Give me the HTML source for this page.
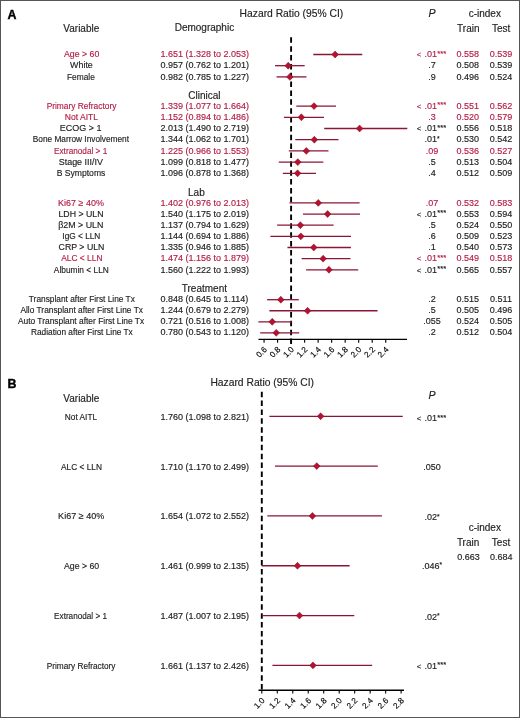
<!DOCTYPE html>
<html><head><meta charset="utf-8"><style>
html,body{margin:0;padding:0;background:#fff;}
body{width:520px;height:718px;overflow:hidden;}
svg{display:block;font-family:"Liberation Sans", sans-serif;will-change:transform;}

.ci{stroke:#8a1636;stroke-width:1.3;}
.dia{fill:#b8102e;stroke:#800c26;stroke-width:0.55;}
.dash{stroke:#000;stroke-width:1.9;stroke-dasharray:5.5 3.36;}
.pl{stroke-width:0.4px;}
.axis{stroke:#000;stroke-width:1.4;}
.tick{stroke:#000;stroke-width:1.1;}
</style></head><body>
<svg width="520" height="718" viewBox="0 0 520 718" fill="#222222">
<rect x="0.5" y="0.5" width="519" height="717" fill="#fff" stroke="#555" stroke-width="1"/>
<text x="7.60" y="18.60" font-size="12.4" fill="#000" font-weight="bold" class="pl" stroke="#000" stroke-width="0.15">A</text>
<text x="291.40" y="16.70" font-size="10.3" text-anchor="middle" stroke="#222222" stroke-width="0.15">Hazard Ratio (95% CI)</text>
<text x="428.60" y="16.80" font-size="10.6" font-style="italic" stroke="#222222" stroke-width="0.15">P</text>
<text x="484.80" y="16.60" font-size="10" text-anchor="middle" stroke="#222222" stroke-width="0.15">c-index</text>
<text x="81.30" y="31.50" font-size="10" text-anchor="middle" stroke="#222222" stroke-width="0.15">Variable</text>
<text x="204.40" y="31.40" font-size="10" text-anchor="middle" stroke="#222222" stroke-width="0.15">Demographic</text>
<text x="468.30" y="31.60" font-size="10" text-anchor="middle" stroke="#222222" stroke-width="0.15">Train</text>
<text x="501.20" y="31.60" font-size="10" text-anchor="middle" stroke="#222222" stroke-width="0.15">Test</text>
<text x="81.65" y="57.20" font-size="9" text-anchor="middle" class="nm" id="A0" textLength="35.37" lengthAdjust="spacingAndGlyphs" fill="#b41c46" stroke="#b41c46" stroke-width="0.15">Age &gt; 60</text>
<text x="160.40" y="57.20" font-size="9" fill="#b41c46" stroke="#b41c46" stroke-width="0.15">1.651 (1.328 to 2.053)</text>
<text y="57.20" font-size="9" fill="#b41c46" stroke="#b41c46" stroke-width="0.15"><tspan x="416.7" font-size="7.6">&lt;</tspan><tspan x="424.4">.01</tspan><tspan x="437.3" font-size="7.5" dy="-1.5">***</tspan></text>
<text x="467.80" y="57.20" font-size="9" text-anchor="middle" fill="#b41c46" stroke="#b41c46" stroke-width="0.15">0.558</text>
<text x="501.00" y="57.20" font-size="9" text-anchor="middle" fill="#b41c46" stroke="#b41c46" stroke-width="0.15">0.539</text>
<text x="81.45" y="68.40" font-size="9" text-anchor="middle" class="nm" id="A1" textLength="22.70" lengthAdjust="spacingAndGlyphs" stroke="#222222" stroke-width="0.15">White</text>
<text x="160.40" y="68.40" font-size="9" stroke="#222222" stroke-width="0.15">0.957 (0.762 to 1.201)</text>
<text x="432.00" y="68.40" font-size="9" text-anchor="middle" stroke="#222222" stroke-width="0.15">.7</text>
<text x="467.80" y="68.40" font-size="9" text-anchor="middle" stroke="#222222" stroke-width="0.15">0.508</text>
<text x="501.00" y="68.40" font-size="9" text-anchor="middle" stroke="#222222" stroke-width="0.15">0.539</text>
<text x="80.95" y="79.60" font-size="9" text-anchor="middle" class="nm" id="A2" textLength="27.84" lengthAdjust="spacingAndGlyphs" stroke="#222222" stroke-width="0.15">Female</text>
<text x="160.40" y="79.60" font-size="9" stroke="#222222" stroke-width="0.15">0.982 (0.785 to 1.227)</text>
<text x="432.00" y="79.60" font-size="9" text-anchor="middle" stroke="#222222" stroke-width="0.15">.9</text>
<text x="467.80" y="79.60" font-size="9" text-anchor="middle" stroke="#222222" stroke-width="0.15">0.496</text>
<text x="501.00" y="79.60" font-size="9" text-anchor="middle" stroke="#222222" stroke-width="0.15">0.524</text>
<text x="204.40" y="99.20" font-size="10" text-anchor="middle" stroke="#222222" stroke-width="0.15">Clinical</text>
<text x="81.50" y="108.80" font-size="9" text-anchor="middle" class="nm" id="A3" textLength="69.74" lengthAdjust="spacingAndGlyphs" fill="#b41c46" stroke="#b41c46" stroke-width="0.15">Primary Refractory</text>
<text x="160.40" y="108.80" font-size="9" fill="#b41c46" stroke="#b41c46" stroke-width="0.15">1.339 (1.077 to 1.664)</text>
<text y="108.80" font-size="9" fill="#b41c46" stroke="#b41c46" stroke-width="0.15"><tspan x="416.7" font-size="7.6">&lt;</tspan><tspan x="424.4">.01</tspan><tspan x="437.3" font-size="7.5" dy="-1.5">***</tspan></text>
<text x="467.80" y="108.80" font-size="9" text-anchor="middle" fill="#b41c46" stroke="#b41c46" stroke-width="0.15">0.551</text>
<text x="501.00" y="108.80" font-size="9" text-anchor="middle" fill="#b41c46" stroke="#b41c46" stroke-width="0.15">0.562</text>
<text x="81.45" y="120.00" font-size="9" text-anchor="middle" class="nm" id="A4" textLength="33.26" lengthAdjust="spacingAndGlyphs" fill="#b41c46" stroke="#b41c46" stroke-width="0.15">Not AITL</text>
<text x="160.40" y="120.00" font-size="9" fill="#b41c46" stroke="#b41c46" stroke-width="0.15">1.152 (0.894 to 1.486)</text>
<text x="432.00" y="120.00" font-size="9" text-anchor="middle" fill="#b41c46" stroke="#b41c46" stroke-width="0.15">.3</text>
<text x="467.80" y="120.00" font-size="9" text-anchor="middle" fill="#b41c46" stroke="#b41c46" stroke-width="0.15">0.520</text>
<text x="501.00" y="120.00" font-size="9" text-anchor="middle" fill="#b41c46" stroke="#b41c46" stroke-width="0.15">0.579</text>
<text x="80.65" y="131.20" font-size="9" text-anchor="middle" class="nm" id="A5" textLength="41.66" lengthAdjust="spacingAndGlyphs" stroke="#222222" stroke-width="0.15">ECOG &gt; 1</text>
<text x="160.40" y="131.20" font-size="9" stroke="#222222" stroke-width="0.15">2.013 (1.490 to 2.719)</text>
<text y="131.20" font-size="9" stroke="#222222" stroke-width="0.15"><tspan x="416.7" font-size="7.6">&lt;</tspan><tspan x="424.4">.01</tspan><tspan x="437.3" font-size="7.5" dy="-1.5">***</tspan></text>
<text x="467.80" y="131.20" font-size="9" text-anchor="middle" stroke="#222222" stroke-width="0.15">0.556</text>
<text x="501.00" y="131.20" font-size="9" text-anchor="middle" stroke="#222222" stroke-width="0.15">0.518</text>
<text x="80.90" y="142.40" font-size="9" text-anchor="middle" class="nm" id="A6" textLength="96.18" lengthAdjust="spacingAndGlyphs" stroke="#222222" stroke-width="0.15">Bone Marrow Involvement</text>
<text x="160.40" y="142.40" font-size="9" stroke="#222222" stroke-width="0.15">1.344 (1.062 to 1.701)</text>
<text x="432.00" y="142.40" font-size="9" text-anchor="middle" stroke="#222222" stroke-width="0.15">.01<tspan font-size="6.6" dy="-1.5">*</tspan></text>
<text x="467.80" y="142.40" font-size="9" text-anchor="middle" stroke="#222222" stroke-width="0.15">0.530</text>
<text x="501.00" y="142.40" font-size="9" text-anchor="middle" stroke="#222222" stroke-width="0.15">0.542</text>
<text x="80.65" y="153.60" font-size="9" text-anchor="middle" class="nm" id="A7" textLength="53.29" lengthAdjust="spacingAndGlyphs" fill="#b41c46" stroke="#b41c46" stroke-width="0.15">Extranodal &gt; 1</text>
<text x="160.40" y="153.60" font-size="9" fill="#b41c46" stroke="#b41c46" stroke-width="0.15">1.225 (0.966 to 1.553)</text>
<text x="432.00" y="153.60" font-size="9" text-anchor="middle" fill="#b41c46" stroke="#b41c46" stroke-width="0.15">.09</text>
<text x="467.80" y="153.60" font-size="9" text-anchor="middle" fill="#b41c46" stroke="#b41c46" stroke-width="0.15">0.536</text>
<text x="501.00" y="153.60" font-size="9" text-anchor="middle" fill="#b41c46" stroke="#b41c46" stroke-width="0.15">0.527</text>
<text x="80.85" y="164.80" font-size="9" text-anchor="middle" class="nm" id="A8" textLength="44.22" lengthAdjust="spacingAndGlyphs" stroke="#222222" stroke-width="0.15">Stage III/IV</text>
<text x="160.40" y="164.80" font-size="9" stroke="#222222" stroke-width="0.15">1.099 (0.818 to 1.477)</text>
<text x="432.00" y="164.80" font-size="9" text-anchor="middle" stroke="#222222" stroke-width="0.15">.5</text>
<text x="467.80" y="164.80" font-size="9" text-anchor="middle" stroke="#222222" stroke-width="0.15">0.513</text>
<text x="501.00" y="164.80" font-size="9" text-anchor="middle" stroke="#222222" stroke-width="0.15">0.504</text>
<text x="81.05" y="176.00" font-size="9" text-anchor="middle" class="nm" id="A9" textLength="48.51" lengthAdjust="spacingAndGlyphs" stroke="#222222" stroke-width="0.15">B Symptoms</text>
<text x="160.40" y="176.00" font-size="9" stroke="#222222" stroke-width="0.15">1.096 (0.878 to 1.368)</text>
<text x="432.00" y="176.00" font-size="9" text-anchor="middle" stroke="#222222" stroke-width="0.15">.4</text>
<text x="467.80" y="176.00" font-size="9" text-anchor="middle" stroke="#222222" stroke-width="0.15">0.512</text>
<text x="501.00" y="176.00" font-size="9" text-anchor="middle" stroke="#222222" stroke-width="0.15">0.509</text>
<text x="196.40" y="195.90" font-size="10" text-anchor="middle" stroke="#222222" stroke-width="0.15">Lab</text>
<text x="81.00" y="205.60" font-size="9" text-anchor="middle" class="nm" id="A10" textLength="45.76" lengthAdjust="spacingAndGlyphs" fill="#b41c46" stroke="#b41c46" stroke-width="0.15">Ki67 ≥ 40%</text>
<text x="160.40" y="205.60" font-size="9" fill="#b41c46" stroke="#b41c46" stroke-width="0.15">1.402 (0.976 to 2.013)</text>
<text x="432.00" y="205.60" font-size="9" text-anchor="middle" fill="#b41c46" stroke="#b41c46" stroke-width="0.15">.07</text>
<text x="467.80" y="205.60" font-size="9" text-anchor="middle" fill="#b41c46" stroke="#b41c46" stroke-width="0.15">0.532</text>
<text x="501.00" y="205.60" font-size="9" text-anchor="middle" fill="#b41c46" stroke="#b41c46" stroke-width="0.15">0.583</text>
<text x="81.00" y="216.75" font-size="9" text-anchor="middle" class="nm" id="A11" textLength="45.03" lengthAdjust="spacingAndGlyphs" stroke="#222222" stroke-width="0.15">LDH &gt; ULN</text>
<text x="160.40" y="216.75" font-size="9" stroke="#222222" stroke-width="0.15">1.540 (1.175 to 2.019)</text>
<text y="216.75" font-size="9" stroke="#222222" stroke-width="0.15"><tspan x="416.7" font-size="7.6">&lt;</tspan><tspan x="424.4">.01</tspan><tspan x="437.3" font-size="7.5" dy="-1.5">***</tspan></text>
<text x="467.80" y="216.75" font-size="9" text-anchor="middle" stroke="#222222" stroke-width="0.15">0.553</text>
<text x="501.00" y="216.75" font-size="9" text-anchor="middle" stroke="#222222" stroke-width="0.15">0.594</text>
<text x="80.75" y="227.90" font-size="9" text-anchor="middle" class="nm" id="A12" textLength="45.24" lengthAdjust="spacingAndGlyphs" stroke="#222222" stroke-width="0.15">β2M &gt; ULN</text>
<text x="160.40" y="227.90" font-size="9" stroke="#222222" stroke-width="0.15">1.137 (0.794 to 1.629)</text>
<text x="432.00" y="227.90" font-size="9" text-anchor="middle" stroke="#222222" stroke-width="0.15">.5</text>
<text x="467.80" y="227.90" font-size="9" text-anchor="middle" stroke="#222222" stroke-width="0.15">0.524</text>
<text x="501.00" y="227.90" font-size="9" text-anchor="middle" stroke="#222222" stroke-width="0.15">0.550</text>
<text x="81.35" y="239.05" font-size="9" text-anchor="middle" class="nm" id="A13" textLength="37.96" lengthAdjust="spacingAndGlyphs" stroke="#222222" stroke-width="0.15">IgG &lt; LLN</text>
<text x="160.40" y="239.05" font-size="9" stroke="#222222" stroke-width="0.15">1.144 (0.694 to 1.886)</text>
<text x="432.00" y="239.05" font-size="9" text-anchor="middle" stroke="#222222" stroke-width="0.15">.6</text>
<text x="467.80" y="239.05" font-size="9" text-anchor="middle" stroke="#222222" stroke-width="0.15">0.509</text>
<text x="501.00" y="239.05" font-size="9" text-anchor="middle" stroke="#222222" stroke-width="0.15">0.523</text>
<text x="81.50" y="250.20" font-size="9" text-anchor="middle" class="nm" id="A14" textLength="45.88" lengthAdjust="spacingAndGlyphs" stroke="#222222" stroke-width="0.15">CRP &gt; ULN</text>
<text x="160.40" y="250.20" font-size="9" stroke="#222222" stroke-width="0.15">1.335 (0.946 to 1.885)</text>
<text x="432.00" y="250.20" font-size="9" text-anchor="middle" stroke="#222222" stroke-width="0.15">.1</text>
<text x="467.80" y="250.20" font-size="9" text-anchor="middle" stroke="#222222" stroke-width="0.15">0.540</text>
<text x="501.00" y="250.20" font-size="9" text-anchor="middle" stroke="#222222" stroke-width="0.15">0.573</text>
<text x="81.85" y="261.35" font-size="9" text-anchor="middle" class="nm" id="A15" textLength="41.16" lengthAdjust="spacingAndGlyphs" fill="#b41c46" stroke="#b41c46" stroke-width="0.15">ALC &lt; LLN</text>
<text x="160.40" y="261.35" font-size="9" fill="#b41c46" stroke="#b41c46" stroke-width="0.15">1.474 (1.156 to 1.879)</text>
<text y="261.35" font-size="9" fill="#b41c46" stroke="#b41c46" stroke-width="0.15"><tspan x="416.7" font-size="7.6">&lt;</tspan><tspan x="424.4">.01</tspan><tspan x="437.3" font-size="7.5" dy="-1.5">***</tspan></text>
<text x="467.80" y="261.35" font-size="9" text-anchor="middle" fill="#b41c46" stroke="#b41c46" stroke-width="0.15">0.549</text>
<text x="501.00" y="261.35" font-size="9" text-anchor="middle" fill="#b41c46" stroke="#b41c46" stroke-width="0.15">0.518</text>
<text x="81.35" y="272.50" font-size="9" text-anchor="middle" class="nm" id="A16" textLength="54.98" lengthAdjust="spacingAndGlyphs" stroke="#222222" stroke-width="0.15">Albumin &lt; LLN</text>
<text x="160.40" y="272.50" font-size="9" stroke="#222222" stroke-width="0.15">1.560 (1.222 to 1.993)</text>
<text y="272.50" font-size="9" stroke="#222222" stroke-width="0.15"><tspan x="416.7" font-size="7.6">&lt;</tspan><tspan x="424.4">.01</tspan><tspan x="437.3" font-size="7.5" dy="-1.5">***</tspan></text>
<text x="467.80" y="272.50" font-size="9" text-anchor="middle" stroke="#222222" stroke-width="0.15">0.565</text>
<text x="501.00" y="272.50" font-size="9" text-anchor="middle" stroke="#222222" stroke-width="0.15">0.557</text>
<text x="204.40" y="291.70" font-size="10" text-anchor="middle" stroke="#222222" stroke-width="0.15">Treatment</text>
<text x="81.85" y="302.00" font-size="9" text-anchor="middle" class="nm" id="A17" textLength="106.01" lengthAdjust="spacingAndGlyphs" stroke="#222222" stroke-width="0.15">Transplant after First Line Tx</text>
<text x="160.40" y="302.00" font-size="9" stroke="#222222" stroke-width="0.15">0.848 (0.645 to 1.114)</text>
<text x="432.00" y="302.00" font-size="9" text-anchor="middle" stroke="#222222" stroke-width="0.15">.2</text>
<text x="467.80" y="302.00" font-size="9" text-anchor="middle" stroke="#222222" stroke-width="0.15">0.515</text>
<text x="501.00" y="302.00" font-size="9" text-anchor="middle" stroke="#222222" stroke-width="0.15">0.511</text>
<text x="81.70" y="313.05" font-size="9" text-anchor="middle" class="nm" id="A18" textLength="122.50" lengthAdjust="spacingAndGlyphs" stroke="#222222" stroke-width="0.15">Allo Transplant after First Line Tx</text>
<text x="160.40" y="313.05" font-size="9" stroke="#222222" stroke-width="0.15">1.244 (0.679 to 2.279)</text>
<text x="432.00" y="313.05" font-size="9" text-anchor="middle" stroke="#222222" stroke-width="0.15">.5</text>
<text x="467.80" y="313.05" font-size="9" text-anchor="middle" stroke="#222222" stroke-width="0.15">0.505</text>
<text x="501.00" y="313.05" font-size="9" text-anchor="middle" stroke="#222222" stroke-width="0.15">0.496</text>
<text x="81.05" y="324.10" font-size="9" text-anchor="middle" class="nm" id="A19" textLength="126.28" lengthAdjust="spacingAndGlyphs" stroke="#222222" stroke-width="0.15">Auto Transplant after First Line Tx</text>
<text x="160.40" y="324.10" font-size="9" stroke="#222222" stroke-width="0.15">0.721 (0.516 to 1.008)</text>
<text x="432.00" y="324.10" font-size="9" text-anchor="middle" stroke="#222222" stroke-width="0.15">.055</text>
<text x="467.80" y="324.10" font-size="9" text-anchor="middle" stroke="#222222" stroke-width="0.15">0.524</text>
<text x="501.00" y="324.10" font-size="9" text-anchor="middle" stroke="#222222" stroke-width="0.15">0.505</text>
<text x="81.90" y="335.15" font-size="9" text-anchor="middle" class="nm" id="A20" textLength="101.76" lengthAdjust="spacingAndGlyphs" stroke="#222222" stroke-width="0.15">Radiation after First Line Tx</text>
<text x="160.40" y="335.15" font-size="9" stroke="#222222" stroke-width="0.15">0.780 (0.543 to 1.120)</text>
<text x="432.00" y="335.15" font-size="9" text-anchor="middle" stroke="#222222" stroke-width="0.15">.2</text>
<text x="467.80" y="335.15" font-size="9" text-anchor="middle" stroke="#222222" stroke-width="0.15">0.512</text>
<text x="501.00" y="335.15" font-size="9" text-anchor="middle" stroke="#222222" stroke-width="0.15">0.504</text>
<line x1="291.1" y1="37.3" x2="291.1" y2="344.0" class="dash"/>
<line x1="258.5" y1="339.35" x2="407" y2="339.35" class="axis"/>
<line x1="264.06" y1="339.35" x2="264.06" y2="342.75" class="tick"/>
<text x="267.46" y="350.05" font-size="8.2" fill="#000" text-anchor="end" transform="rotate(-45 267.46 350.05)" stroke="#000" stroke-width="0.15">0.6</text>
<line x1="277.58" y1="339.35" x2="277.58" y2="342.75" class="tick"/>
<text x="280.98" y="350.05" font-size="8.2" fill="#000" text-anchor="end" transform="rotate(-45 280.98 350.05)" stroke="#000" stroke-width="0.15">0.8</text>
<line x1="291.10" y1="339.35" x2="291.10" y2="342.75" class="tick"/>
<text x="294.50" y="350.05" font-size="8.2" fill="#000" text-anchor="end" transform="rotate(-45 294.50 350.05)" stroke="#000" stroke-width="0.15">1.0</text>
<line x1="304.62" y1="339.35" x2="304.62" y2="342.75" class="tick"/>
<text x="308.02" y="350.05" font-size="8.2" fill="#000" text-anchor="end" transform="rotate(-45 308.02 350.05)" stroke="#000" stroke-width="0.15">1.2</text>
<line x1="318.14" y1="339.35" x2="318.14" y2="342.75" class="tick"/>
<text x="321.54" y="350.05" font-size="8.2" fill="#000" text-anchor="end" transform="rotate(-45 321.54 350.05)" stroke="#000" stroke-width="0.15">1.4</text>
<line x1="331.66" y1="339.35" x2="331.66" y2="342.75" class="tick"/>
<text x="335.06" y="350.05" font-size="8.2" fill="#000" text-anchor="end" transform="rotate(-45 335.06 350.05)" stroke="#000" stroke-width="0.15">1.6</text>
<line x1="345.18" y1="339.35" x2="345.18" y2="342.75" class="tick"/>
<text x="348.58" y="350.05" font-size="8.2" fill="#000" text-anchor="end" transform="rotate(-45 348.58 350.05)" stroke="#000" stroke-width="0.15">1.8</text>
<line x1="358.70" y1="339.35" x2="358.70" y2="342.75" class="tick"/>
<text x="362.10" y="350.05" font-size="8.2" fill="#000" text-anchor="end" transform="rotate(-45 362.10 350.05)" stroke="#000" stroke-width="0.15">2.0</text>
<line x1="372.22" y1="339.35" x2="372.22" y2="342.75" class="tick"/>
<text x="375.62" y="350.05" font-size="8.2" fill="#000" text-anchor="end" transform="rotate(-45 375.62 350.05)" stroke="#000" stroke-width="0.15">2.2</text>
<line x1="385.74" y1="339.35" x2="385.74" y2="342.75" class="tick"/>
<text x="389.14" y="350.05" font-size="8.2" fill="#000" text-anchor="end" transform="rotate(-45 389.14 350.05)" stroke="#000" stroke-width="0.15">2.4</text>
<line x1="313.27" y1="54.50" x2="362.28" y2="54.50" class="ci"/>
<path d="M331.81 54.50L335.11 51.05L338.41 54.50L335.11 57.95Z" class="dia"/>
<line x1="275.01" y1="65.70" x2="304.69" y2="65.70" class="ci"/>
<path d="M284.89 65.70L288.19 62.25L291.49 65.70L288.19 69.15Z" class="dia"/>
<line x1="276.57" y1="76.90" x2="306.45" y2="76.90" class="ci"/>
<path d="M286.58 76.90L289.88 73.45L293.18 76.90L289.88 80.35Z" class="dia"/>
<line x1="296.31" y1="106.10" x2="335.99" y2="106.10" class="ci"/>
<path d="M310.72 106.10L314.02 102.65L317.32 106.10L314.02 109.55Z" class="dia"/>
<line x1="283.93" y1="117.30" x2="323.95" y2="117.30" class="ci"/>
<path d="M298.08 117.30L301.38 113.85L304.68 117.30L301.38 120.75Z" class="dia"/>
<line x1="324.22" y1="128.50" x2="407.30" y2="128.50" class="ci"/>
<path d="M356.28 128.50L359.58 125.05L362.88 128.50L359.58 131.95Z" class="dia"/>
<line x1="295.29" y1="139.70" x2="338.49" y2="139.70" class="ci"/>
<path d="M311.05 139.70L314.35 136.25L317.65 139.70L314.35 143.15Z" class="dia"/>
<line x1="288.80" y1="150.90" x2="328.48" y2="150.90" class="ci"/>
<path d="M303.01 150.90L306.31 147.45L309.61 150.90L306.31 154.35Z" class="dia"/>
<line x1="278.80" y1="162.10" x2="323.35" y2="162.10" class="ci"/>
<path d="M294.49 162.10L297.79 158.65L301.09 162.10L297.79 165.55Z" class="dia"/>
<line x1="282.85" y1="173.30" x2="315.98" y2="173.30" class="ci"/>
<path d="M294.29 173.30L297.59 169.85L300.89 173.30L297.59 176.75Z" class="dia"/>
<line x1="289.48" y1="202.90" x2="359.58" y2="202.90" class="ci"/>
<path d="M314.98 202.90L318.28 199.45L321.58 202.90L318.28 206.35Z" class="dia"/>
<line x1="302.93" y1="214.05" x2="359.98" y2="214.05" class="ci"/>
<path d="M324.30 214.05L327.60 210.60L330.90 214.05L327.60 217.50Z" class="dia"/>
<line x1="277.17" y1="225.20" x2="333.62" y2="225.20" class="ci"/>
<path d="M297.06 225.20L300.36 221.75L303.66 225.20L300.36 228.65Z" class="dia"/>
<line x1="270.41" y1="236.35" x2="350.99" y2="236.35" class="ci"/>
<path d="M297.53 236.35L300.83 232.90L304.13 236.35L300.83 239.80Z" class="dia"/>
<line x1="287.45" y1="247.50" x2="350.93" y2="247.50" class="ci"/>
<path d="M310.45 247.50L313.75 244.05L317.05 247.50L313.75 250.95Z" class="dia"/>
<line x1="301.65" y1="258.65" x2="350.52" y2="258.65" class="ci"/>
<path d="M319.84 258.65L323.14 255.20L326.44 258.65L323.14 262.10Z" class="dia"/>
<line x1="306.11" y1="269.80" x2="358.23" y2="269.80" class="ci"/>
<path d="M325.66 269.80L328.96 266.35L332.26 269.80L328.96 273.25Z" class="dia"/>
<line x1="267.10" y1="299.70" x2="298.81" y2="299.70" class="ci"/>
<path d="M277.52 299.70L280.82 296.25L284.12 299.70L280.82 303.15Z" class="dia"/>
<line x1="269.40" y1="310.75" x2="377.56" y2="310.75" class="ci"/>
<path d="M304.29 310.75L307.59 307.30L310.89 310.75L307.59 314.20Z" class="dia"/>
<line x1="258.38" y1="321.80" x2="291.64" y2="321.80" class="ci"/>
<path d="M268.94 321.80L272.24 318.35L275.54 321.80L272.24 325.25Z" class="dia"/>
<line x1="260.21" y1="332.85" x2="299.21" y2="332.85" class="ci"/>
<path d="M272.93 332.85L276.23 329.40L279.53 332.85L276.23 336.30Z" class="dia"/>
<text x="7.60" y="387.90" font-size="12.4" fill="#000" font-weight="bold" class="pl" stroke="#000" stroke-width="0.15">B</text>
<text x="262.20" y="386.00" font-size="10.3" text-anchor="middle" stroke="#222222" stroke-width="0.15">Hazard Ratio (95% CI)</text>
<text x="428.40" y="398.70" font-size="10.6" font-style="italic" stroke="#222222" stroke-width="0.15">P</text>
<text x="81.30" y="401.50" font-size="10" text-anchor="middle" stroke="#222222" stroke-width="0.15">Variable</text>
<text x="80.95" y="420.00" font-size="9" text-anchor="middle" class="nm" id="B0" textLength="32.31" lengthAdjust="spacingAndGlyphs" stroke="#222222" stroke-width="0.15">Not AITL</text>
<text x="160.40" y="420.00" font-size="9" stroke="#222222" stroke-width="0.15">1.760 (1.098 to 2.821)</text>
<text y="421.10" font-size="9" stroke="#222222" stroke-width="0.15"><tspan x="416.7" font-size="7.6">&lt;</tspan><tspan x="424.4">.01</tspan><tspan x="437.3" font-size="7.5" dy="-1.5">***</tspan></text>
<text x="81.45" y="469.70" font-size="9" text-anchor="middle" class="nm" id="B1" textLength="40.96" lengthAdjust="spacingAndGlyphs" stroke="#222222" stroke-width="0.15">ALC &lt; LLN</text>
<text x="160.40" y="469.70" font-size="9" stroke="#222222" stroke-width="0.15">1.710 (1.170 to 2.499)</text>
<text x="432.00" y="469.60" font-size="9" text-anchor="middle" stroke="#222222" stroke-width="0.15">.050</text>
<text x="81.20" y="519.40" font-size="9" text-anchor="middle" class="nm" id="B2" textLength="46.17" lengthAdjust="spacingAndGlyphs" stroke="#222222" stroke-width="0.15">Ki67 ≥ 40%</text>
<text x="160.40" y="519.40" font-size="9" stroke="#222222" stroke-width="0.15">1.654 (1.072 to 2.552)</text>
<text x="432.00" y="520.40" font-size="9" text-anchor="middle" stroke="#222222" stroke-width="0.15">.02<tspan font-size="6.6" dy="-1.5">*</tspan></text>
<text x="81.60" y="569.10" font-size="9" text-anchor="middle" class="nm" id="B3" textLength="35.27" lengthAdjust="spacingAndGlyphs" stroke="#222222" stroke-width="0.15">Age &gt; 60</text>
<text x="160.40" y="569.10" font-size="9" stroke="#222222" stroke-width="0.15">1.461 (0.999 to 2.135)</text>
<text x="432.00" y="568.60" font-size="9" text-anchor="middle" stroke="#222222" stroke-width="0.15">.046<tspan font-size="6.6" dy="-1.5">*</tspan></text>
<text x="80.55" y="618.80" font-size="9" text-anchor="middle" class="nm" id="B4" textLength="52.88" lengthAdjust="spacingAndGlyphs" stroke="#222222" stroke-width="0.15">Extranodal &gt; 1</text>
<text x="160.40" y="618.80" font-size="9" stroke="#222222" stroke-width="0.15">1.487 (1.007 to 2.195)</text>
<text x="432.00" y="619.70" font-size="9" text-anchor="middle" stroke="#222222" stroke-width="0.15">.02<tspan font-size="6.6" dy="-1.5">*</tspan></text>
<text x="81.10" y="668.50" font-size="9" text-anchor="middle" class="nm" id="B5" textLength="68.81" lengthAdjust="spacingAndGlyphs" stroke="#222222" stroke-width="0.15">Primary Refractory</text>
<text x="160.40" y="668.50" font-size="9" stroke="#222222" stroke-width="0.15">1.661 (1.137 to 2.426)</text>
<text y="668.50" font-size="9" stroke="#222222" stroke-width="0.15"><tspan x="416.7" font-size="7.6">&lt;</tspan><tspan x="424.4">.01</tspan><tspan x="437.3" font-size="7.5" dy="-1.5">***</tspan></text>
<text x="484.80" y="531.20" font-size="10" text-anchor="middle" stroke="#222222" stroke-width="0.15">c-index</text>
<text x="468.10" y="546.20" font-size="10" text-anchor="middle" stroke="#222222" stroke-width="0.15">Train</text>
<text x="501.00" y="546.20" font-size="10" text-anchor="middle" stroke="#222222" stroke-width="0.15">Test</text>
<text x="468.50" y="560.10" font-size="9" text-anchor="middle" stroke="#222222" stroke-width="0.15">0.663</text>
<text x="501.20" y="560.10" font-size="9" text-anchor="middle" stroke="#222222" stroke-width="0.15">0.684</text>
<line x1="261.8" y1="391.7" x2="261.8" y2="690.2" class="dash"/>
<line x1="258.5" y1="690.2" x2="404" y2="690.2" class="axis"/>
<line x1="261.80" y1="690.2" x2="261.80" y2="693.60" class="tick"/>
<text x="265.20" y="701.10" font-size="8.2" fill="#000" text-anchor="end" transform="rotate(-45 265.20 701.10)" stroke="#000" stroke-width="0.15">1.0</text>
<line x1="277.28" y1="690.2" x2="277.28" y2="693.60" class="tick"/>
<text x="280.68" y="701.10" font-size="8.2" fill="#000" text-anchor="end" transform="rotate(-45 280.68 701.10)" stroke="#000" stroke-width="0.15">1.2</text>
<line x1="292.76" y1="690.2" x2="292.76" y2="693.60" class="tick"/>
<text x="296.16" y="701.10" font-size="8.2" fill="#000" text-anchor="end" transform="rotate(-45 296.16 701.10)" stroke="#000" stroke-width="0.15">1.4</text>
<line x1="308.24" y1="690.2" x2="308.24" y2="693.60" class="tick"/>
<text x="311.64" y="701.10" font-size="8.2" fill="#000" text-anchor="end" transform="rotate(-45 311.64 701.10)" stroke="#000" stroke-width="0.15">1.6</text>
<line x1="323.72" y1="690.2" x2="323.72" y2="693.60" class="tick"/>
<text x="327.12" y="701.10" font-size="8.2" fill="#000" text-anchor="end" transform="rotate(-45 327.12 701.10)" stroke="#000" stroke-width="0.15">1.8</text>
<line x1="339.20" y1="690.2" x2="339.20" y2="693.60" class="tick"/>
<text x="342.60" y="701.10" font-size="8.2" fill="#000" text-anchor="end" transform="rotate(-45 342.60 701.10)" stroke="#000" stroke-width="0.15">2.0</text>
<line x1="354.68" y1="690.2" x2="354.68" y2="693.60" class="tick"/>
<text x="358.08" y="701.10" font-size="8.2" fill="#000" text-anchor="end" transform="rotate(-45 358.08 701.10)" stroke="#000" stroke-width="0.15">2.2</text>
<line x1="370.16" y1="690.2" x2="370.16" y2="693.60" class="tick"/>
<text x="373.56" y="701.10" font-size="8.2" fill="#000" text-anchor="end" transform="rotate(-45 373.56 701.10)" stroke="#000" stroke-width="0.15">2.4</text>
<line x1="385.64" y1="690.2" x2="385.64" y2="693.60" class="tick"/>
<text x="389.04" y="701.10" font-size="8.2" fill="#000" text-anchor="end" transform="rotate(-45 389.04 701.10)" stroke="#000" stroke-width="0.15">2.6</text>
<line x1="401.12" y1="690.2" x2="401.12" y2="693.60" class="tick"/>
<text x="404.52" y="701.10" font-size="8.2" fill="#000" text-anchor="end" transform="rotate(-45 404.52 701.10)" stroke="#000" stroke-width="0.15">2.8</text>
<line x1="269.39" y1="416.30" x2="402.75" y2="416.30" class="ci"/>
<path d="M317.32 416.30L320.62 412.85L323.92 416.30L320.62 419.75Z" class="dia"/>
<line x1="274.96" y1="466.12" x2="377.82" y2="466.12" class="ci"/>
<path d="M313.45 466.12L316.75 462.67L320.05 466.12L316.75 469.57Z" class="dia"/>
<line x1="267.37" y1="515.94" x2="381.92" y2="515.94" class="ci"/>
<path d="M309.12 515.94L312.42 512.49L315.72 515.94L312.42 519.39Z" class="dia"/>
<line x1="261.72" y1="565.76" x2="349.65" y2="565.76" class="ci"/>
<path d="M294.18 565.76L297.48 562.31L300.78 565.76L297.48 569.21Z" class="dia"/>
<line x1="262.34" y1="615.58" x2="354.29" y2="615.58" class="ci"/>
<path d="M296.19 615.58L299.49 612.13L302.79 615.58L299.49 619.03Z" class="dia"/>
<line x1="272.40" y1="665.40" x2="372.17" y2="665.40" class="ci"/>
<path d="M309.66 665.40L312.96 661.95L316.26 665.40L312.96 668.85Z" class="dia"/>
</svg>
</body></html>
